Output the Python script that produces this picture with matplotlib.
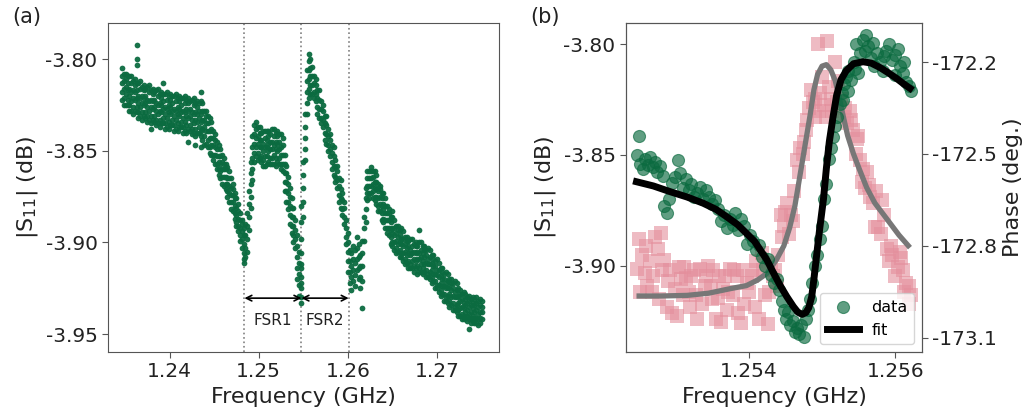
import matplotlib
matplotlib.use("Agg")
import matplotlib.pyplot as plt

plt.rcParams['font.family'] = ['DejaVu Sans']
plt.rcParams['axes.unicode_minus'] = False

# ---------------- Panel (a): broadband |S11| (columns: frequency GHz, values dB) ----
band_left = [
    (1.2347, [-3.805, -3.809, -3.813, -3.818, -3.822]),
    (1.2349, [-3.808, -3.812, -3.816, -3.821, -3.825]),
    (1.2351, [-3.808, -3.811, -3.815, -3.819, -3.825]),
    (1.2353, [-3.809, -3.813, -3.817, -3.822, -3.825]),
    (1.2355, [-3.809, -3.816, -3.820, -3.825, -3.828]),
    (1.2357, [-3.809, -3.813, -3.818, -3.823, -3.828]),
    (1.2359, [-3.812, -3.817, -3.821, -3.826, -3.830]),
    (1.2361, [-3.811, -3.814, -3.818, -3.822, -3.828]),
    (1.2363, [-3.792, -3.800, -3.803, -3.813, -3.817, -3.821, -3.826, -3.829]),
    (1.2365, [-3.813, -3.820, -3.824, -3.829, -3.832]),
    (1.2367, [-3.812, -3.816, -3.821, -3.826, -3.831]),
    (1.2369, [-3.815, -3.820, -3.824, -3.829, -3.833]),
    (1.2371, [-3.814, -3.817, -3.821, -3.825, -3.831]),
    (1.2373, [-3.816, -3.820, -3.824, -3.829, -3.832]),
    (1.2375, [-3.815, -3.822, -3.826, -3.831, -3.834]),
    (1.2377, [-3.814, -3.818, -3.823, -3.828, -3.833]),
    (1.2379, [-3.817, -3.822, -3.826, -3.831, -3.835, -3.838]),
    (1.2381, [-3.816, -3.819, -3.823, -3.827, -3.833]),
    (1.2383, [-3.818, -3.822, -3.826, -3.831, -3.834]),
    (1.2385, [-3.817, -3.824, -3.828, -3.833, -3.836]),
    (1.2387, [-3.816, -3.820, -3.825, -3.830, -3.835]),
    (1.2389, [-3.819, -3.824, -3.828, -3.833, -3.837]),
    (1.2391, [-3.818, -3.821, -3.825, -3.829, -3.835]),
    (1.2393, [-3.813, -3.819, -3.823, -3.827, -3.832, -3.835]),
    (1.2395, [-3.819, -3.826, -3.830, -3.835, -3.838]),
    (1.2397, [-3.818, -3.822, -3.827, -3.832, -3.837]),
    (1.2399, [-3.820, -3.825, -3.829, -3.834, -3.838]),
    (1.2401, [-3.819, -3.822, -3.826, -3.830, -3.836]),
    (1.2403, [-3.820, -3.824, -3.828, -3.833, -3.836]),
    (1.2405, [-3.820, -3.827, -3.831, -3.836, -3.839]),
    (1.2407, [-3.819, -3.823, -3.828, -3.833, -3.838]),
    (1.2409, [-3.821, -3.826, -3.830, -3.835, -3.839]),
    (1.2411, [-3.820, -3.823, -3.827, -3.831, -3.837]),
    (1.2413, [-3.821, -3.825, -3.829, -3.834, -3.837]),
    (1.2415, [-3.821, -3.828, -3.832, -3.837, -3.840]),
    (1.2417, [-3.820, -3.824, -3.829, -3.834, -3.839]),
    (1.2419, [-3.822, -3.827, -3.831, -3.836, -3.840]),
    (1.2421, [-3.821, -3.824, -3.828, -3.832, -3.838, -3.845]),
    (1.2423, [-3.823, -3.827, -3.831, -3.836, -3.839]),
    (1.2425, [-3.822, -3.829, -3.833, -3.838, -3.841]),
    (1.2427, [-3.821, -3.825, -3.830, -3.835, -3.840]),
    (1.2429, [-3.824, -3.829, -3.833, -3.838, -3.842, -3.847]),
    (1.2431, [-3.823, -3.826, -3.830, -3.834, -3.840]),
    (1.2433, [-3.824, -3.828, -3.832, -3.837, -3.840]),
    (1.2435, [-3.818, -3.823, -3.830, -3.834, -3.839, -3.842, -3.848]),
    (1.2437, [-3.824, -3.828, -3.833, -3.838, -3.844]),
    (1.2439, [-3.828, -3.833, -3.837, -3.842, -3.847]),
    (1.2441, [-3.828, -3.831, -3.835, -3.839, -3.846]),
    (1.2443, [-3.831, -3.835, -3.839, -3.844, -3.848]),
    (1.2445, [-3.832, -3.839, -3.843, -3.848, -3.851]),
    (1.2447, [-3.834, -3.838, -3.843, -3.847, -3.852]),
    (1.2449, [-3.839, -3.843, -3.847, -3.852, -3.855]),
    (1.2451, [-3.841, -3.844, -3.848, -3.852, -3.857]),
    (1.2453, [-3.845, -3.849, -3.853, -3.857, -3.860]),
    (1.2455, [-3.847, -3.853, -3.856, -3.860, -3.863]),
    (1.2457, [-3.849, -3.853, -3.857, -3.861, -3.865]),
    (1.2459, [-3.852, -3.856, -3.860, -3.864, -3.868]),
    (1.2461, [-3.854, -3.857, -3.860, -3.864, -3.869]),
    (1.2463, [-3.857, -3.860, -3.864, -3.868, -3.871]),
    (1.2465, [-3.859, -3.865, -3.868, -3.872, -3.875]),
    (1.2467, [-3.861, -3.865, -3.869, -3.873, -3.878]),
    (1.2469, [-3.865, -3.870, -3.874, -3.878, -3.882]),
    (1.2471, [-3.868, -3.871, -3.874, -3.878, -3.883]),
    (1.2473, [-3.873, -3.876, -3.880, -3.884, -3.887]),
    (1.2475, [-3.876, -3.881, -3.885, -3.889, -3.891]),
    (1.2477, [-3.879, -3.883, -3.887, -3.891, -3.894]),
    (1.2479, [-3.884, -3.888, -3.892, -3.896, -3.899]),
    (1.2481, [-3.888, -3.890, -3.894, -3.898, -3.903]),
    (1.2483, [-3.892, -3.896, -3.901, -3.906, -3.909, -3.911]),
    (1.2485, [-3.890, -3.896, -3.903, -3.908]),
    (1.2487, [-3.884, -3.891, -3.898, -3.905]),
    (1.2489, [-3.872, -3.879, -3.886, -3.893]),
    (1.2491, [-3.856, -3.862, -3.868, -3.875, -3.881]),
    (1.2493, [-3.842, -3.848, -3.854, -3.860, -3.866]),
    (1.2495, [-3.836, -3.841, -3.846, -3.851, -3.856]),
]

fsr1_peak = [
    (1.2497, [-3.834, -3.838, -3.843, -3.848, -3.853]),
    (1.2499, [-3.837, -3.842, -3.846, -3.851, -3.855]),
    (1.2501, [-3.837, -3.840, -3.844, -3.848, -3.854]),
    (1.2503, [-3.840, -3.844, -3.848, -3.853, -3.856]),
    (1.2505, [-3.839, -3.846, -3.850, -3.855, -3.858]),
    (1.2507, [-3.839, -3.843, -3.848, -3.853, -3.858]),
    (1.2509, [-3.839, -3.844, -3.848, -3.853, -3.857]),
    (1.2511, [-3.839, -3.842, -3.846, -3.850, -3.856]),
    (1.2513, [-3.841, -3.845, -3.849, -3.854, -3.857]),
    (1.2515, [-3.838, -3.845, -3.849, -3.854, -3.857]),
    (1.2517, [-3.838, -3.842, -3.847, -3.852, -3.857]),
    (1.2519, [-3.840, -3.845, -3.849, -3.854, -3.858]),
    (1.2521, [-3.839, -3.842, -3.846, -3.850, -3.856]),
    (1.2523, [-3.841, -3.845, -3.849, -3.854, -3.857]),
    (1.2525, [-3.841, -3.848, -3.852, -3.857, -3.860]),
    (1.2527, [-3.843, -3.847, -3.852, -3.857, -3.861]),
    (1.2529, [-3.852, -3.857, -3.862, -3.867, -3.872]),
    (1.2531, [-3.858, -3.862, -3.867, -3.872, -3.878]),
    (1.2533, [-3.864, -3.868, -3.873, -3.878, -3.882]),
    (1.2535, [-3.870, -3.875, -3.880, -3.885, -3.890]),
    (1.2537, [-3.876, -3.881, -3.886, -3.891, -3.895]),
    (1.2539, [-3.881, -3.886, -3.891, -3.896, -3.900]),
    (1.2541, [-3.888, -3.893, -3.898, -3.903]),
    (1.2543, [-3.896, -3.902, -3.908, -3.914, -3.920]),
    (1.2545, [-3.905, -3.911, -3.917, -3.923, -3.929]),
    (1.2547, [-3.912, -3.919, -3.925, -3.930, -3.933]),
]

fsr2_peak = [
    (1.2548, [-3.880, -3.889, -3.898, -3.906, -3.914, -3.922]),
    (1.2550, [-3.856, -3.863, -3.870, -3.878, -3.886]),
    (1.2552, [-3.830, -3.837, -3.843, -3.849, -3.855]),
    (1.2554, [-3.806, -3.812, -3.818, -3.824, -3.830]),
    (1.2556, [-3.797, -3.801, -3.806, -3.811, -3.816, -3.821]),
    (1.2558, [-3.800, -3.805, -3.809, -3.814, -3.819]),
    (1.2560, [-3.804, -3.809, -3.814, -3.819]),
    (1.2562, [-3.809, -3.813, -3.818, -3.821]),
    (1.2564, [-3.811, -3.814, -3.819, -3.823]),
    (1.2566, [-3.817, -3.821, -3.826, -3.830]),
    (1.2568, [-3.817, -3.822, -3.827, -3.832]),
    (1.2570, [-3.823, -3.827, -3.832, -3.835]),
    (1.2572, [-3.825, -3.828, -3.833, -3.837]),
    (1.2574, [-3.831, -3.835, -3.840, -3.844]),
    (1.2576, [-3.831, -3.836, -3.841, -3.846]),
    (1.2578, [-3.838, -3.842, -3.847, -3.850]),
    (1.2580, [-3.841, -3.844, -3.849, -3.853]),
    (1.2582, [-3.847, -3.851, -3.856, -3.860]),
    (1.2584, [-3.848, -3.853, -3.858, -3.863]),
    (1.2586, [-3.855, -3.859, -3.864, -3.867]),
    (1.2588, [-3.858, -3.861, -3.866, -3.870]),
    (1.2590, [-3.865, -3.869, -3.874, -3.878]),
    (1.2592, [-3.866, -3.871, -3.876, -3.881]),
    (1.2594, [-3.873, -3.877, -3.882, -3.885]),
    (1.2596, [-3.878, -3.881, -3.886, -3.890]),
    (1.2598, [-3.888, -3.892, -3.897, -3.901]),
    (1.2600, [-3.895, -3.900, -3.905, -3.910, -3.916]),
    (1.2602, [-3.904, -3.910, -3.916, -3.922]),
    (1.2604, [-3.906, -3.913, -3.919, -3.926]),
    (1.2606, [-3.902, -3.909, -3.915, -3.921]),
    (1.2608, [-3.904, -3.911, -3.918, -3.924]),
    (1.2610, [-3.897, -3.903, -3.909, -3.915]),
    (1.2612, [-3.901, -3.908, -3.914, -3.920]),
    (1.2614, [-3.907, -3.913, -3.919, -3.925]),
    (1.2616, [-3.899, -3.906, -3.913, -3.921, -3.936]),
    (1.2618, [-3.886, -3.892, -3.899]),
    (1.2620, [-3.870, -3.876, -3.882, -3.889]),
]

band_right = [
    (1.2622, [-3.861, -3.865, -3.869, -3.873, -3.877]),
    (1.2624, [-3.861, -3.865, -3.869, -3.873, -3.876]),
    (1.2626, [-3.859, -3.861, -3.865, -3.869, -3.873]),
    (1.2628, [-3.861, -3.864, -3.868, -3.872, -3.876]),
    (1.2630, [-3.861, -3.867, -3.870, -3.875, -3.877]),
    (1.2632, [-3.863, -3.867, -3.871, -3.875, -3.879]),
    (1.2634, [-3.868, -3.872, -3.876, -3.880, -3.883]),
    (1.2636, [-3.869, -3.871, -3.875, -3.879, -3.883]),
    (1.2638, [-3.873, -3.876, -3.880, -3.884, -3.888]),
    (1.2640, [-3.873, -3.879, -3.882, -3.887, -3.889]),
    (1.2642, [-3.876, -3.880, -3.884, -3.888, -3.892]),
    (1.2644, [-3.880, -3.884, -3.888, -3.892, -3.895]),
    (1.2646, [-3.882, -3.884, -3.888, -3.892, -3.896]),
    (1.2648, [-3.886, -3.889, -3.893, -3.897, -3.901]),
    (1.2650, [-3.883, -3.886, -3.892, -3.895, -3.900, -3.902]),
    (1.2652, [-3.888, -3.892, -3.896, -3.900, -3.904]),
    (1.2654, [-3.891, -3.895, -3.899, -3.903, -3.906]),
    (1.2656, [-3.891, -3.893, -3.897, -3.901, -3.905]),
    (1.2658, [-3.893, -3.896, -3.900, -3.904, -3.908]),
    (1.2660, [-3.892, -3.898, -3.901, -3.906, -3.908]),
    (1.2662, [-3.894, -3.898, -3.902, -3.906, -3.910]),
    (1.2664, [-3.897, -3.901, -3.905, -3.909, -3.912]),
    (1.2666, [-3.897, -3.899, -3.903, -3.907, -3.911]),
    (1.2668, [-3.899, -3.902, -3.906, -3.910, -3.914]),
    (1.2670, [-3.898, -3.904, -3.907, -3.912, -3.914]),
    (1.2672, [-3.898, -3.902, -3.906, -3.910, -3.914]),
    (1.2674, [-3.901, -3.905, -3.909, -3.913, -3.916]),
    (1.2676, [-3.900, -3.902, -3.906, -3.910, -3.914]),
    (1.2678, [-3.902, -3.905, -3.909, -3.913, -3.917]),
    (1.2680, [-3.893, -3.900, -3.906, -3.909, -3.914, -3.916]),
    (1.2682, [-3.900, -3.904, -3.908, -3.912, -3.916]),
    (1.2684, [-3.902, -3.906, -3.910, -3.914, -3.917]),
    (1.2686, [-3.902, -3.904, -3.908, -3.912, -3.916]),
    (1.2688, [-3.904, -3.907, -3.911, -3.915, -3.919]),
    (1.2690, [-3.903, -3.909, -3.912, -3.917, -3.919]),
    (1.2692, [-3.904, -3.908, -3.912, -3.916, -3.920]),
    (1.2694, [-3.907, -3.911, -3.915, -3.919, -3.922]),
    (1.2696, [-3.907, -3.909, -3.913, -3.917, -3.921]),
    (1.2698, [-3.910, -3.913, -3.917, -3.921, -3.925]),
    (1.2700, [-3.909, -3.915, -3.918, -3.923, -3.925]),
    (1.2702, [-3.911, -3.915, -3.919, -3.923, -3.927]),
    (1.2704, [-3.914, -3.918, -3.922, -3.926, -3.929]),
    (1.2706, [-3.914, -3.916, -3.920, -3.924, -3.928]),
    (1.2708, [-3.917, -3.920, -3.924, -3.928, -3.932]),
    (1.2710, [-3.916, -3.922, -3.925, -3.930, -3.932]),
    (1.2712, [-3.917, -3.921, -3.925, -3.929, -3.933]),
    (1.2714, [-3.920, -3.924, -3.928, -3.932, -3.935]),
    (1.2716, [-3.920, -3.922, -3.926, -3.930, -3.934]),
    (1.2718, [-3.922, -3.925, -3.929, -3.933, -3.937]),
    (1.2720, [-3.921, -3.927, -3.930, -3.935, -3.937]),
    (1.2722, [-3.922, -3.926, -3.930, -3.934, -3.938]),
    (1.2724, [-3.925, -3.929, -3.933, -3.937, -3.940]),
    (1.2726, [-3.926, -3.928, -3.932, -3.936, -3.940]),
    (1.2728, [-3.928, -3.931, -3.935, -3.939, -3.942]),
    (1.2730, [-3.927, -3.933, -3.936, -3.940, -3.942]),
    (1.2732, [-3.928, -3.931, -3.934, -3.938, -3.941]),
    (1.2734, [-3.930, -3.933, -3.937, -3.940, -3.943]),
    (1.2736, [-3.929, -3.932, -3.935, -3.939, -3.942, -3.947]),
    (1.2738, [-3.931, -3.934, -3.938, -3.941, -3.944]),
    (1.2740, [-3.930, -3.933, -3.936, -3.940, -3.943]),
    (1.2742, [-3.931, -3.934, -3.938, -3.941, -3.944]),
    (1.2744, [-3.930, -3.933, -3.937, -3.941, -3.944]),
    (1.2746, [-3.932, -3.935, -3.939, -3.942, -3.945]),
    (1.2748, [-3.931, -3.934, -3.938, -3.941, -3.944]),
    (1.2750, [-3.932, -3.935, -3.938, -3.942]),
]

fsr_lines = [1.2484, 1.2548, 1.2601]
fsr_labels = ["FSR1", "FSR2"]
fsr_arrow_level = -3.9304
fsr_text_level = -3.9425

# ---------------- Panel (b): zoom on one resonance ----------------
b_freq = [1.25250, 1.25248, 1.25252, 1.25256, 1.25259, 1.25263, 1.25266, 1.25270, 1.25272, 1.25275,
          1.25279, 1.25283, 1.25284, 1.25288, 1.25292, 1.25295, 1.25300, 1.25304, 1.25306, 1.25310,
          1.25314, 1.25318, 1.25322, 1.25326, 1.25330, 1.25334, 1.25338, 1.25342, 1.25346, 1.25350,
          1.25354, 1.25358, 1.25362, 1.25366, 1.25370, 1.25374, 1.25378, 1.25382, 1.25386, 1.25390,
          1.25394, 1.25398, 1.25402, 1.25406, 1.25410, 1.25414, 1.25418, 1.25422, 1.25426, 1.25430,
          1.25434, 1.25438, 1.25442, 1.25445, 1.25448, 1.25451, 1.25454, 1.25457, 1.25460, 1.25463,
          1.25466, 1.25469, 1.25472, 1.25475, 1.25478, 1.25481, 1.25484, 1.25487, 1.25490, 1.25493,
          1.25497, 1.25500, 1.25503, 1.25506, 1.25509, 1.25512, 1.25515, 1.25518, 1.25521, 1.25524,
          1.25527, 1.25530, 1.25533, 1.25536, 1.25540, 1.25543, 1.25546, 1.25549, 1.25552, 1.25556,
          1.25560, 1.25563, 1.25567, 1.25571, 1.25575, 1.25579, 1.25583, 1.25587, 1.25591, 1.25595,
          1.25599, 1.25603, 1.25607, 1.25611, 1.25615, 1.25619, 1.25622,
          1.25545, 1.25558, 1.25570, 1.25585, 1.25600, 1.25612, 1.25535, 1.25528]
b_s11 = [-3.8414, -3.8500, -3.8540, -3.8565, -3.8520, -3.8545, -3.8510, -3.8555, -3.8530, -3.8575,
         -3.8550, -3.8595, -3.8730, -3.8760, -3.8700, -3.8625, -3.8600, -3.8525, -3.8580, -3.8650,
         -3.8610, -3.8660, -3.8630, -3.8690, -3.8670, -3.8645, -3.8700, -3.8660, -3.8690, -3.8720,
         -3.8705, -3.8745, -3.8800, -3.8770, -3.8830, -3.8790, -3.8815, -3.8760, -3.8840, -3.8790,
         -3.8820, -3.8900, -3.8860, -3.8890, -3.8930, -3.8905, -3.8960, -3.9000, -3.8970, -3.9040,
         -3.9080, -3.9060, -3.9110, -3.9160, -3.9200, -3.9240, -3.9210, -3.9270, -3.9250, -3.9300,
         -3.9280, -3.9310, -3.9270, -3.9320, -3.9240, -3.9200, -3.9150, -3.9080, -3.9000, -3.8950,
         -3.8880, -3.8820, -3.8700, -3.8630, -3.8520, -3.8470, -3.8420, -3.8370, -3.8330, -3.8270,
         -3.8220, -3.8180, -3.8150, -3.8120, -3.8160, -3.8080, -3.8000, -3.8130, -3.8040, -3.7980,
         -3.7960, -3.8010, -3.8060, -3.8100, -3.8040, -3.8080, -3.8120, -3.8030, -3.8000, -3.8070,
         -3.8140, -3.8020, -3.8100, -3.8130, -3.8170, -3.8190, -3.8210,
         -3.8110, -3.8030, -3.7995, -3.8055, -3.8050, -3.8080, -3.8210, -3.8250]

b_phase_freq = [1.25250, 1.25248, 1.25255, 1.25260, 1.25265, 1.25272, 1.25276, 1.25280, 1.25285, 1.25262,
                1.25270, 1.25278, 1.25290, 1.25296, 1.25300, 1.25305, 1.25310, 1.25315, 1.25320, 1.25325,
                1.25330, 1.25334, 1.25340, 1.25345, 1.25350, 1.25355, 1.25360, 1.25365, 1.25370, 1.25374,
                1.25378, 1.25384, 1.25390, 1.25394, 1.25398, 1.25405, 1.25410, 1.25414, 1.25418, 1.25422,
                1.25426, 1.25430, 1.25436, 1.25440, 1.25444, 1.25448, 1.25452, 1.25455, 1.25458, 1.25462,
                1.25466, 1.25470, 1.25474, 1.25478, 1.25482, 1.25485, 1.25488, 1.25491, 1.25494, 1.25497,
                1.25500, 1.25503, 1.25507, 1.25510, 1.25514, 1.25518, 1.25522, 1.25526, 1.25530, 1.25534,
                1.25538, 1.25542, 1.25546, 1.25549, 1.25552, 1.25555, 1.25558, 1.25562, 1.25566, 1.25570,
                1.25574, 1.25577, 1.25580, 1.25584, 1.25588, 1.25592, 1.25596, 1.25600, 1.25604, 1.25608,
                1.25612, 1.25615, 1.25619, 1.25622,
                1.25252, 1.25258, 1.25268, 1.25282, 1.25288, 1.25293, 1.25302, 1.25308, 1.25312, 1.25318,
                1.25322, 1.25328, 1.25336, 1.25342, 1.25348, 1.25352, 1.25358, 1.25362, 1.25368, 1.25372,
                1.25380, 1.25386, 1.25392, 1.25400, 1.25408, 1.25412, 1.25420, 1.25428, 1.25433, 1.25438,
                1.25445, 1.25450, 1.25460, 1.25468, 1.25476, 1.25480, 1.25490, 1.25496, 1.25505, 1.25512,
                1.25520, 1.25532, 1.25540, 1.25548, 1.25556, 1.25564, 1.25572, 1.25582, 1.25594, 1.25606,
                1.25610, 1.25618]
b_phase = [-172.779, -172.877, -172.830, -172.800, -172.850, -172.770, -172.812, -172.757, -172.845, -172.932,
           -172.900, -172.975, -172.915, -173.018, -172.940, -172.870, -172.960, -172.905, -173.000, -172.880,
           -173.040, -172.877, -172.930, -172.866, -172.975, -173.040, -172.900, -172.940, -173.010, -172.877,
           -172.960, -172.900, -173.051, -172.990, -172.920, -172.900, -172.850, -173.040, -172.822, -172.960,
           -173.057, -172.855, -172.880, -172.830, -172.700, -172.736, -172.660, -172.760, -172.700, -172.620,
           -172.520, -172.480, -172.500, -172.420, -172.350, -172.290, -172.330, -172.380, -172.140, -172.300,
           -172.250, -172.340, -172.130, -172.280, -172.360, -172.200, -172.260, -172.320, -172.380, -172.400,
           -172.360, -172.420, -172.500, -172.440, -172.520, -172.590, -172.610, -172.560, -172.640, -172.660,
           -172.620, -172.740, -172.760, -172.700, -172.810, -172.850, -172.830, -172.900, -172.870, -172.840,
           -172.950, -172.920, -172.990, -172.960,
           -172.950, -172.890, -172.950, -172.880, -173.000, -172.880, -173.030, -172.910, -172.870, -172.950,
           -172.900, -172.960, -172.990, -172.900, -172.930, -172.880, -172.970, -173.050, -172.900, -172.950,
           -172.880, -173.020, -172.880, -172.950, -173.000, -172.880, -172.880, -172.950, -172.900, -172.930,
           -172.770, -172.690, -172.720, -172.560, -172.460, -172.390, -172.320, -172.360, -172.380, -172.320,
           -172.330, -172.350, -172.390, -172.450, -172.550, -172.600, -172.740, -172.650, -172.800, -172.820,
           -172.880, -172.930]

fit_s11_freq = [1.25247, 1.25270, 1.25293, 1.25316, 1.25338, 1.25355, 1.25370, 1.25385, 1.25397, 1.25408,
                1.25415, 1.25425, 1.25434, 1.25443, 1.25452, 1.25461, 1.25467, 1.25473, 1.25478, 1.25482,
                1.25486, 1.25489, 1.25493, 1.25497, 1.25502, 1.25506, 1.25510, 1.25515, 1.25520, 1.25526,
                1.25533, 1.25543, 1.25556, 1.25567, 1.25579, 1.25590, 1.25602, 1.25611, 1.25620]
fit_s11 = [-3.8621, -3.8640, -3.8666, -3.8690, -3.8718, -3.8745, -3.8779, -3.8815, -3.8854, -3.8890,
           -3.8925, -3.8975, -3.9034, -3.9090, -3.9140, -3.9185, -3.9210, -3.9220, -3.9212, -3.9190,
           -3.9140, -3.9060, -3.8944, -3.8830, -3.8700, -3.8560, -3.8440, -3.8330, -3.8230, -3.8160,
           -3.8120, -3.8088, -3.8079, -3.8085, -3.8105, -3.8128, -3.8155, -3.8178, -3.8199]

fit_phase_freq = [1.25247, 1.25280, 1.25316, 1.25345, 1.25375, 1.25397, 1.25412, 1.25425, 1.25438, 1.25448,
                  1.25456, 1.25463, 1.25470, 1.25477, 1.25484, 1.25489, 1.25494, 1.25500, 1.25506, 1.25512,
                  1.25518, 1.25523, 1.25529, 1.25535, 1.25543, 1.25551, 1.25561, 1.25572, 1.25589, 1.25605,
                  1.25620]
fit_phase = [-172.964, -172.964, -172.962, -172.955, -172.940, -172.930, -172.912, -172.890, -172.845, -172.800,
             -172.740, -172.670, -172.570, -172.470, -172.370, -172.290, -172.240, -172.213, -172.208, -172.225,
             -172.260, -172.310, -172.377, -172.440, -172.500, -172.550, -172.610, -172.660, -172.714, -172.765,
             -172.806]

# ---------------- Styling ----------------
GREEN = '#0b6b40'
PINK = '#e48f9c'
SPINE = '#555555'
TICK_FS = 14.5
LABEL_FS = 16

fig = plt.figure(figsize=(10.29, 4.18), dpi=100)
axA = fig.add_axes([108/1029, 1-352/418, (499-108)/1029, (352-23)/418])
axB = fig.add_axes([626/1029, 1-352/418, (922-626)/1029, (352-23)/418])


def style(ax):
    for s in ax.spines.values():
        s.set_color(SPINE)
    ax.tick_params(colors=SPINE, labelcolor='#222222', labelsize=TICK_FS, length=4)


# Panel (a)
xs, ys = [], []
for group in (band_left, fsr1_peak, fsr2_peak, band_right):
    for f, vals in group:
        for v in vals:
            xs.append(f)
            ys.append(v)
axA.scatter(xs, ys, s=17, color=GREEN, linewidths=0, alpha=0.95, zorder=3)
for fl in fsr_lines:
    axA.axvline(fl, color='gray', linestyle=':', linewidth=1.2, zorder=1)
for i in range(2):
    axA.annotate('', xy=(fsr_lines[i], fsr_arrow_level), xytext=(fsr_lines[i+1], fsr_arrow_level),
                 arrowprops=dict(arrowstyle='<->', color='black', lw=1.2, shrinkA=0, shrinkB=0), zorder=4)
    axA.text((fsr_lines[i] + fsr_lines[i+1]) / 2, fsr_text_level, fsr_labels[i],
             ha='center', va='center', fontsize=11, color='#222222')
axA.set_xlim(1.2331, 1.27696)
axA.set_ylim(-3.9598, -3.7802)
axA.set_xticks([1.24, 1.25, 1.26, 1.27])
axA.set_xticklabels(['1.24', '1.25', '1.26', '1.27'])
axA.set_yticks([-3.80, -3.85, -3.90, -3.95])
axA.set_yticklabels(['-3.80', '-3.85', '-3.90', '-3.95'])
axA.set_xlabel('Frequency (GHz)', fontsize=LABEL_FS, color='#222222')
axA.set_ylabel('|S$_{11}$| (dB)', fontsize=LABEL_FS, color='#222222')
style(axA)

# Panel (b)
axB2 = axB.twinx()
axB.set_zorder(axB2.get_zorder() + 1)
axB.patch.set_visible(False)

axB2.scatter(b_phase_freq, b_phase, s=95, marker='s', color=PINK, alpha=0.6, linewidths=0)
axB2.plot(fit_phase_freq, fit_phase, color='#777777', linewidth=3.8, solid_capstyle='butt')
axB.scatter(b_freq, b_s11, s=75, color=GREEN, alpha=0.65, edgecolors=GREEN, linewidths=0.8,
            label='data', zorder=2)
axB.plot(fit_s11_freq, fit_s11, color='black', linewidth=5, label='fit', zorder=3)

axB.set_xlim(1.252327, 1.256364)
axB.set_ylim(-3.9390, -3.7904)
axB2.set_ylim(-173.147, -172.072)
axB.set_xticks([1.254, 1.256])
axB.set_xticklabels(['1.254', '1.256'])
axB.set_yticks([-3.80, -3.85, -3.90])
axB.set_yticklabels(['-3.80', '-3.85', '-3.90'])
axB2.set_yticks([-172.2, -172.5, -172.8, -173.1])
axB2.set_yticklabels(['-172.2', '-172.5', '-172.8', '-173.1'])
axB.set_xlabel('Frequency (GHz)', fontsize=LABEL_FS, color='#222222')
axB.set_ylabel('|S$_{11}$| (dB)', fontsize=LABEL_FS, color='#222222')
axB2.set_ylabel('Phase (deg.)', fontsize=LABEL_FS, color='#222222')
style(axB)
style(axB2)
leg = axB.legend(loc='lower right', fontsize=11.5, frameon=True, handlelength=2.0)

fig.text(12/1029, 1-17/418, '(a)', fontsize=15, va='center', ha='left', color='#222222')
fig.text(530/1029, 1-17/418, '(b)', fontsize=15, va='center', ha='left', color='#222222')

fig.savefig('out.png', dpi=100)
